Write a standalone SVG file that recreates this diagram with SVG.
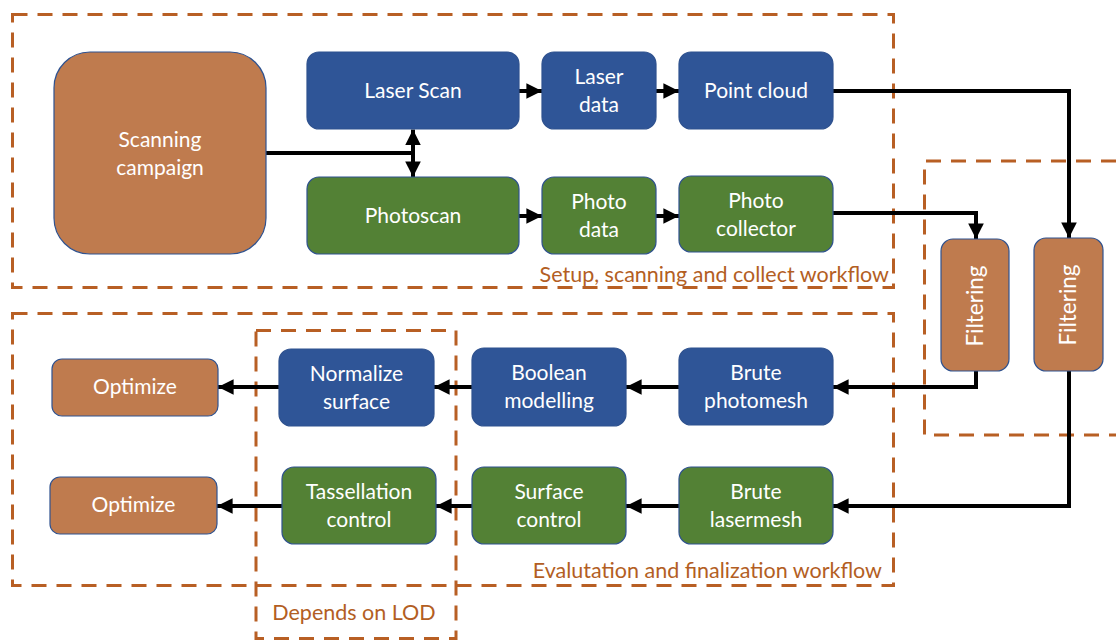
<svg xmlns="http://www.w3.org/2000/svg" width="1116" height="641" viewBox="0 0 1116 641">
<defs>
<marker id="ah" viewBox="0 0 10 10" refX="10" refY="5" markerWidth="3.9" markerHeight="3.9" orient="auto-start-reverse" markerUnits="strokeWidth">
<path d="M0,0 L10,5 L0,10 Z" fill="#000"/>
</marker>
<style>
.grp{fill:none;stroke:#B85F24;stroke-width:3;stroke-dasharray:15 10}
.lbl{font-family:Lato,"Open Sans",sans-serif;font-size:21.5px;fill:#B35E23}
.blue{fill:#2F5597;stroke:#2F528F;stroke-width:1.2}
.green{fill:#538135;stroke:#2F528F;stroke-width:1.2}
.brown{fill:#BF7B4E;stroke:#2F528F;stroke-width:1.2}
.t{font-family:Lato,"Open Sans",sans-serif;font-size:21px;fill:#fff;text-anchor:middle}
.tv{font-size:22.5px}
.c{fill:none;stroke:#000;stroke-width:4}
.ca{fill:none;stroke:#000;stroke-width:4;marker-end:url(#ah)}
</style>
</defs>
<rect width="1116" height="641" fill="#fff"/>

<g id="groups">
<rect class="grp" x="12.5" y="14.5" width="881" height="273"/>
<path class="grp" d="M1116,161 H924.5 V435 H1116"/>
<rect class="grp" x="12.5" y="313.5" width="881" height="272"/>
<rect class="grp" x="256" y="330.5" width="200" height="308"/>
<text class="lbl" x="889" y="282" text-anchor="end">Setup, scanning and collect workflow</text>
<text class="lbl" x="882" y="578" text-anchor="end">Evalutation and finalization workflow</text>
<text class="lbl" x="354" y="620" text-anchor="middle">Depends on LOD</text>
</g>

<g id="connectors">
<path class="c" d="M266,153 H413"/>
<path class="ca" d="M413,153 V129.5" />
<path class="ca" d="M413,153 V177" />
<path class="ca" d="M519,91 H542"/>
<path class="ca" d="M656,91 H679"/>
<path class="ca" d="M519,216 H542"/>
<path class="ca" d="M656,216 H679"/>
<path class="ca" d="M833,91 H1069 V238"/>
<path class="ca" d="M833,213 H976 V239"/>
<path class="ca" d="M976,371 V387 H833"/>
<path class="ca" d="M1069,371 V506 H833"/>
<path class="ca" d="M679,387 H626"/>
<path class="ca" d="M472,387 H434"/>
<path class="ca" d="M279,387 H218"/>
<path class="ca" d="M679,506 H626"/>
<path class="ca" d="M472,506 H436"/>
<path class="ca" d="M282,506 H217"/>
</g>

<g id="scanning-campaign">
<rect class="brown" x="54" y="52" width="212" height="202" rx="36"/>
<text class="t" x="160" y="147">Scanning</text>
<text class="t" x="160" y="175">campaign</text>
</g>
<g id="laser-scan">
<rect class="blue" x="307" y="52" width="212" height="77" rx="12"/>
<text class="t" x="413" y="98">Laser Scan</text>
</g>
<g id="photoscan">
<rect class="green" x="307" y="177" width="212" height="77" rx="12"/>
<text class="t" x="413" y="223">Photoscan</text>
</g>
<g id="laser-data">
<rect class="blue" x="542" y="52" width="114" height="77" rx="12"/>
<text class="t" x="599" y="84">Laser</text>
<text class="t" x="599" y="112">data</text>
</g>
<g id="point-cloud">
<rect class="blue" x="679" y="52" width="154" height="77" rx="12"/>
<text class="t" x="756" y="98">Point cloud</text>
</g>
<g id="photo-data">
<rect class="green" x="542" y="177" width="114" height="77" rx="12"/>
<text class="t" x="599" y="209">Photo</text>
<text class="t" x="599" y="237">data</text>
</g>
<g id="photo-collector">
<rect class="green" x="679" y="176" width="154" height="76" rx="12"/>
<text class="t" x="756" y="208">Photo</text>
<text class="t" x="756" y="236">collector</text>
</g>
<g id="filtering-1">
<rect class="brown" x="941" y="239" width="68" height="132" rx="12"/>
<text class="t tv" transform="translate(983,306) rotate(-90)" x="0" y="0">Filtering</text>
</g>
<g id="filtering-2">
<rect class="brown" x="1034" y="238" width="69" height="133" rx="12"/>
<text class="t tv" transform="translate(1076,305) rotate(-90)" x="0" y="0">Filtering</text>
</g>
<g id="brute-photomesh">
<rect class="blue" x="679" y="348" width="154" height="77" rx="12"/>
<text class="t" x="756" y="380">Brute</text>
<text class="t" x="756" y="408">photomesh</text>
</g>
<g id="boolean-modelling">
<rect class="blue" x="472" y="348" width="154" height="78" rx="12"/>
<text class="t" x="549" y="380">Boolean</text>
<text class="t" x="549" y="408">modelling</text>
</g>
<g id="normalize-surface">
<rect class="blue" x="279" y="349" width="155" height="77" rx="12"/>
<text class="t" x="356.5" y="381">Normalize</text>
<text class="t" x="356.5" y="409">surface</text>
</g>
<g id="optimize-1">
<rect class="brown" x="52" y="359" width="166" height="57" rx="10"/>
<text class="t" x="135" y="394">Optimize</text>
</g>
<g id="brute-lasermesh">
<rect class="green" x="679" y="467" width="154" height="77" rx="12"/>
<text class="t" x="756" y="499">Brute</text>
<text class="t" x="756" y="527">lasermesh</text>
</g>
<g id="surface-control">
<rect class="green" x="472" y="467" width="154" height="77" rx="12"/>
<text class="t" x="549" y="499">Surface</text>
<text class="t" x="549" y="527">control</text>
</g>
<g id="tassellation-control">
<rect class="green" x="282" y="467" width="154" height="77" rx="12"/>
<text class="t" x="359" y="499">Tassellation</text>
<text class="t" x="359" y="527">control</text>
</g>
<g id="optimize-2">
<rect class="brown" x="50" y="477" width="167" height="57" rx="10"/>
<text class="t" x="133.5" y="512">Optimize</text>
</g>
</svg>
